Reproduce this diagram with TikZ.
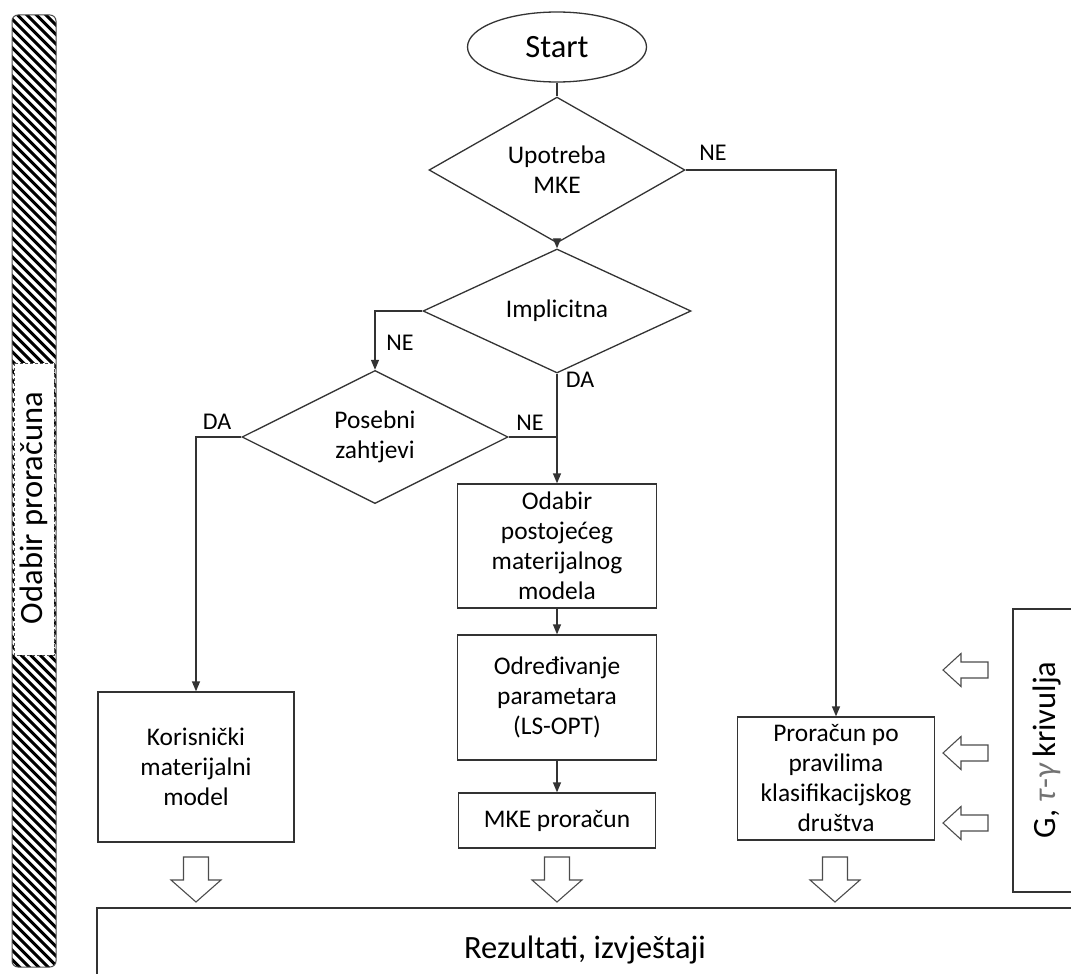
\documentclass[tikz,border=0pt]{standalone}
\usepackage{fontspec}
\setmainfont{Carlito}
\usetikzlibrary{shapes.geometric,arrows.meta}

\tikzset{
  every node/.style={font=\fontsize{25.4}{30}\selectfont},
  box/.style={draw=black!80, line width=1.3pt, align=center, inner sep=0pt},
  dec/.style={diamond, draw=black!80, line width=1.3pt, align=center, inner sep=0pt},
  lbl/.style={inner sep=0pt, font=\fontsize{24}{28}\selectfont},
  big/.style={font=\fontsize{32.5}{38}\selectfont},
  ln/.style={draw=black!80, line width=1.3pt},
  arr/.style={ln, -{Triangle[length=10pt,width=8pt]}},
  hollow/.style={draw=black!70, line width=1.1pt, fill=white},
  pics/downblock/.style={code={
    \path[hollow] (-12.5,0) -- (12.5,0) -- (12.5,23) -- (25,23) -- (0,45) -- (-25,23) -- (-12.5,23) -- cycle;}},
  pics/leftblock/.style={code={
    \path[hollow] (0,-8) -- (0,8) -- (-27,8) -- (-27,16.5) -- (-45,0) -- (-27,-16.5) -- (-27,-8) -- cycle;}},
}

\begin{document}
\begin{tikzpicture}[x=1pt,y=-1pt]
\useasboundingbox (0,0) rectangle (1071,974);

% hatched side bar
\begin{scope}
\clip[rounded corners=6pt] (12,15) rectangle (56,967);
\foreach \i in {0,...,108}
  \draw[line width=3pt] (0,-50+9.5*\i) -- ++(70,70);
\end{scope}
\filldraw[fill=white, draw=black!70, densely dashed, line width=1pt] (14,363) rectangle (54,655);
\draw[black!70, line width=1pt, rounded corners=6pt] (12,15) rectangle (56,967);
\node[big, rotate=90] (sidetxt) at (34,508) {Odabir proračuna};

% flowchart
\node[ellipse, draw=black!80, line width=1.3pt, minimum width=179pt, minimum height=70pt, inner sep=0pt, big] (start) at (557,47) {Start};
\node[dec, minimum width=256pt, minimum height=110pt] (upotreba) at (557,170) {Upotreba\\MKE};
\node[dec, minimum width=268pt, minimum height=107pt] (implicitna) at (557,311) {Implicitna};
\node[dec, minimum width=266pt, minimum height=108pt] (posebni) at (375,437) {Posebni\\zahtjevi};

\node[box, minimum width=199pt, minimum height=124pt] (odabir) at (557,546) {Odabir\\postojećeg\\materijalnog\\modela};
\node[box, minimum width=199pt, minimum height=125pt] (odredivanje) at (557,697.5) {Određivanje\\parametara\\(LS-OPT)};
\node[box, minimum width=197pt, minimum height=55pt] (mke) at (557,820.5) {MKE proračun};
\node[box, minimum width=196pt, minimum height=150pt] (korisnicki) at (196,767) {Korisnički\\materijalni\\model};
\node[box, minimum width=197pt, minimum height=123pt] (proracun) at (836,778.5) {Proračun po\\pravilima\\klasifikacijskog\\društva};

\draw[ln] (start.south) -- (upotreba.north);
\draw[arr] (upotreba.south) -- (implicitna.north);
\draw[arr] (upotreba.east) -| (proracun.north);
\draw[arr] (implicitna.west) -| (posebni.north);
\draw[arr] (implicitna.south) -- (odabir.north);
\draw[ln] (posebni.east) -- (posebni.east -| implicitna.south);
\draw[arr] (posebni.west) -| (korisnicki.north);
\draw[arr] (odabir.south) -- (odredivanje.north);
\draw[arr] (odredivanje.south) -- (mke.north);

\node[lbl] (ne1) at (713,153) {NE};
\node[lbl] (ne2) at (400,343) {NE};
\node[lbl] (da1) at (580,380) {DA};
\node[lbl] (ne3) at (530,423) {NE};
\node[lbl] (da2) at (217,422) {DA};

% inputs on the right
\node[draw=black!80, line width=1.3pt, minimum width=80pt, minimum height=283pt] (gbox) at (1053,750.5) {};
\node[big, rotate=90] (gtxt) at (1047,750) {G, \textcolor{black!55}{\textit{τ}-\textit{γ}}\,krivulja};
\foreach \y in {670,753,823}
  \pic at (988,\y) {leftblock};

% results
\node[draw=black!80, line width=1.3pt, minimum width=993pt, minimum height=82pt] (rez) at (593.5,949) {};
\node[big, anchor=base] (reztxt) at (585,958) {Rezultati, izvještaji};
\foreach \x in {196,557,835}
  \pic at (\x,857) {downblock};
\end{tikzpicture}
\end{document}
